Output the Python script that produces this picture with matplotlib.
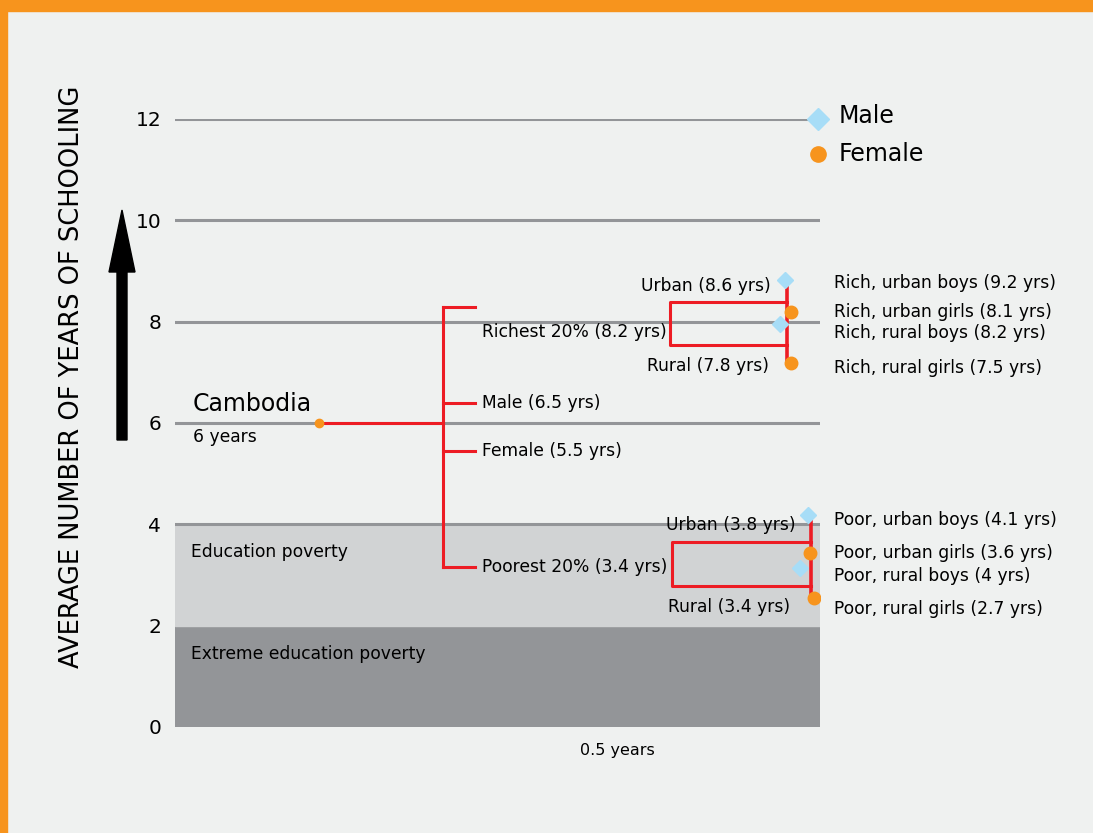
import matplotlib.pyplot as plt
from matplotlib.patches import Rectangle, FancyArrow

plt.rcParams['font.family'] = ['DejaVu Sans']

ORANGE = "#F7941D"
RED = "#ED1C24"
BLUE = "#A7DDF7"
BG = "#EFF1F0"
DARK = "#939598"
LIGHT = "#D1D3D4"

# y ticks and bands
yticks = [0, 2, 4, 6, 8, 10, 12]
grid_levels = [4, 6, 8, 10, 12]
bands = [(0, 2, DARK, "Extreme education poverty"), (2, 4, LIGHT, "Education poverty")]

# national average and first split (years, as drawn)
national = 6.0
split_labels = ["Richest 20% (8.2 yrs)", "Male (6.5 yrs)", "Female (5.5 yrs)", "Poorest 20% (3.4 yrs)"]
split_levels = [8.29, 6.39, 5.45, 3.16]
split_text_y = [7.80, 6.39, 5.45, 3.16]

# rich / poor sub-groups: urban, rural brackets
rich_box = (7.54, 8.39)
poor_box = (2.78, 3.65)
rich_stem = (7.20, 8.68)
poor_stem = (2.57, 4.09)
rich_sub = ["Urban (8.6 yrs)", "Rural (7.8 yrs)"]
poor_sub = ["Urban (3.8 yrs)", "Rural (3.4 yrs)"]

# end points: urban boys, urban girls, rural boys, rural girls
rich_vals = [8.82, 8.19, 7.95, 7.18]
poor_vals = [4.18, 3.43, 3.14, 2.55]
rich_labels = ["Rich, urban boys (9.2 yrs)", "Rich, urban girls (8.1 yrs)",
               "Rich, rural boys (8.2 yrs)", "Rich, rural girls (7.5 yrs)"]
poor_labels = ["Poor, urban boys (4.1 yrs)", "Poor, urban girls (3.6 yrs)",
               "Poor, rural boys (4 yrs)", "Poor, rural girls (2.7 yrs)"]
rich_label_y = [8.76, 8.19, 7.78, 7.08]
poor_label_y = [4.09, 3.43, 2.98, 2.33]

SMALL = 12.3
BIG = 17

W, H = 1093, 833
fig = plt.figure(figsize=(W / 100, H / 100), dpi=100, facecolor=BG)
# orange frame strips
fig.add_artist(Rectangle((0, 1 - 11 / H), 1, 11 / H, transform=fig.transFigure, color=ORANGE))
fig.add_artist(Rectangle((0, 0), 7 / W, 1, transform=fig.transFigure, color=ORANGE))

x0, x1, ytop, ybot = 175, 820, 119, 727
ax = fig.add_axes([x0 / W, 1 - ybot / H, (x1 - x0) / W, (ybot - ytop) / H])
ax.set_facecolor("none")
ax.set_xlim(x0, x1)
ax.set_ylim(0, 12)
for s in ax.spines.values():
    s.set_visible(False)
ax.set_xticks([])
ax.set_yticks(yticks)
ax.tick_params(axis="y", length=0, pad=10, labelsize=14.5)

for lo, hi, c, lab in bands:
    ax.axhspan(lo, hi, color=c, zorder=0)
    ax.text(191, hi - 0.55, lab, fontsize=SMALL, va="center", ha="left")
for g in grid_levels:
    ax.axhline(g, color=DARK, lw=2.2, zorder=1)

# Cambodia
ax.plot([319, 443], [national, national], color=RED, lw=2.2, zorder=3)
ax.plot(319, national, "o", color=ORANGE, ms=6, zorder=4)
ax.text(193, 6.37, "Cambodia", fontsize=BIG, va="center", ha="left")
ax.text(193, 5.72, "6 years", fontsize=SMALL, va="center", ha="left")

# first split
ax.plot([443, 443], [min(split_levels), max(split_levels)], color=RED, lw=2.2, zorder=3)
for lev, lab, ty in zip(split_levels, split_labels, split_text_y):
    ax.plot([443, 475], [lev, lev], color=RED, lw=2.2, zorder=3)
    ax.text(482, ty, lab, fontsize=SMALL, va="center", ha="left")

# brackets
def bracket(box, stem, xl, xr, xstem):
    ax.plot([xr, xl, xl, xr], [box[1], box[1], box[0], box[0]], color=RED, lw=2.2, zorder=3)
    ax.plot([xstem, xstem], stem, color=RED, lw=2.6, zorder=3)

bracket(rich_box, rich_stem, 670, 787, 787)
bracket(poor_box, poor_stem, 672, 811, 811)

ax.text(771, 8.70, rich_sub[0], fontsize=SMALL, va="center", ha="right")
ax.text(769, 7.12, rich_sub[1], fontsize=SMALL, va="center", ha="right")
ax.text(796, 3.98, poor_sub[0], fontsize=SMALL, va="center", ha="right")
ax.text(790, 2.37, poor_sub[1], fontsize=SMALL, va="center", ha="right")

# end markers
rich_x = [785, 791, 780, 791]
poor_x = [808, 810, 800, 814]
for xs, vals in ((rich_x, rich_vals), (poor_x, poor_vals)):
    ax.plot([xs[0], xs[2]], [vals[0], vals[2]], "D", color=BLUE, ms=8, zorder=5, ls="none")
    ax.plot([xs[1], xs[3]], [vals[1], vals[3]], "o", color=ORANGE, ms=9, zorder=5, ls="none")
for lab, ty in zip(rich_labels, rich_label_y):
    ax.text(834, ty, lab, fontsize=SMALL, va="center", ha="left", clip_on=False)
for lab, ty in zip(poor_labels, poor_label_y):
    ax.text(834, ty, lab, fontsize=SMALL, va="center", ha="left", clip_on=False)

# legend
ax.plot(818, 12, "D", color=BLUE, ms=11, clip_on=False, zorder=5)
ax.plot(818, 11.31, "o", color=ORANGE, ms=11, clip_on=False, zorder=5)
ax.text(839, 12.05, "Male", fontsize=BIG, va="center", ha="left", clip_on=False)
ax.text(839, 11.31, "Female", fontsize=BIG, va="center", ha="left", clip_on=False)

ax.text(617, -0.47, "0.5 years", fontsize=SMALL - 0.8, va="center", ha="center")

# y label and arrow
fig.text(72 / W, 1 - 377 / H, "AVERAGE NUMBER OF YEARS OF SCHOOLING", rotation=90,
         fontsize=18.5, va="center", ha="center")
fig.add_artist(FancyArrow(122 / W, 1 - 440 / H, 0, (440 - 210) / H, width=10 / W,
                          head_width=26 / W, head_length=62 / H,
                          length_includes_head=True, transform=fig.transFigure,
                          color="black"))

fig.savefig("out.png", dpi=100, facecolor=BG)
